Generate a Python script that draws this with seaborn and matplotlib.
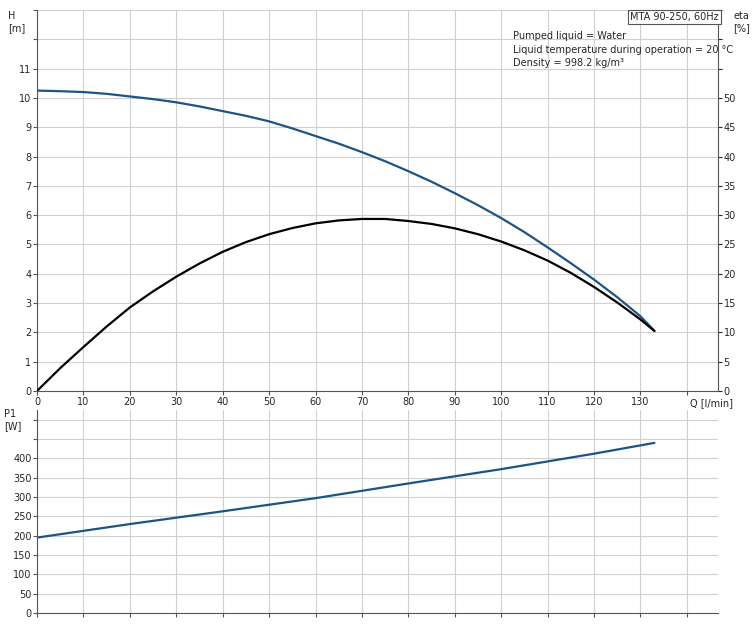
import numpy as np
import pandas as pd
import matplotlib
matplotlib.use('Agg')
import matplotlib.pyplot as plt
from matplotlib.ticker import MultipleLocator
import seaborn as sns

# curve data
q      = [0, 5, 10, 15, 20, 25, 30, 35, 40, 45, 50, 55, 60, 65, 70, 75, 80, 85,
          90, 95, 100, 105, 110, 115, 120, 125, 130, 133]
head   = [10.25, 10.23, 10.2, 10.14, 10.05, 9.96, 9.85, 9.71, 9.55, 9.39, 9.2, 8.96,
          8.7, 8.44, 8.15, 7.84, 7.5, 7.14, 6.75, 6.34, 5.9, 5.42, 4.9, 4.36, 3.8,
          3.2, 2.55, 2.05]
eta    = [0, 3.9, 7.5, 11.0, 14.25, 17.0, 19.5, 21.75, 23.75, 25.4, 26.75, 27.8,
          28.6, 29.1, 29.35, 29.35, 29.0, 28.5, 27.75, 26.75, 25.5, 24.0, 22.25,
          20.15, 17.75, 15.1, 12.2, 10.25]
q_p1   = [0, 20, 40, 60, 80, 100, 120, 133]
p1     = [195, 230, 263, 297, 335, 372, 412, 440]

sns.set_style('white')
plt.rcParams['font.family'] = ['DejaVu Sans']
_fs = 7
blue = '#1d5486'
grid = '#d0d0d0'

fig = plt.figure(figsize=(7.54, 6.27), dpi=100)
W, H = 754., 627.
ax1 = fig.add_axes([37/W, 1-391/H, (718-37)/W, (391-10)/H])
ax2 = fig.add_axes([37/W, 1-613/H, (718-37)/W, (613-410)/H])
xmax = 146.7

df = pd.DataFrame({'Q': q, 'H': head, 'eta': eta})
dp = pd.DataFrame({'Q': q_p1, 'P1': p1})

ax3 = ax1.twinx()
sns.lineplot(data=df, x='Q', y='H', ax=ax1, color=blue, lw=1.6)
sns.lineplot(data=df, x='Q', y='eta', ax=ax3, color='black', lw=1.6)
sns.lineplot(data=dp, x='Q', y='P1', ax=ax2, color=blue, lw=1.6)

ax1.set_xlim(0, xmax); ax1.set_ylim(0, 13)
ax3.set_ylim(0, 65)
ax2.set_xlim(0, xmax); ax2.set_ylim(0, 525)

for a in (ax1, ax2):
    a.grid(True, color=grid, lw=0.8)
    a.set_xlabel(''); a.set_ylabel('')
    for s in ('top', 'right'):
        a.spines[s].set_visible(False)
    a.spines['left'].set_color('#555555'); a.spines['bottom'].set_color('#555555')
    a.tick_params(labelsize=_fs, length=3, direction='out', color='#555555', pad=1,
                  left=True, bottom=True)
ax1.set_yticks(range(0, 14))
ax1.set_yticklabels([str(i) if i <= 11 else '' for i in range(14)])
ax1.set_xticks(range(0, 141, 10))
ax1.set_xticklabels([str(i) if i <= 130 else '' for i in range(0, 141, 10)])
ax3.set_yticks(range(0, 66, 5))
ax3.set_yticklabels([str(i) if i <= 50 else '' for i in range(0, 66, 5)])
ax3.set_ylabel('')
ax3.tick_params(labelsize=_fs, length=3, right=True, pad=1)
for s in ('top', 'left', 'bottom'):
    ax3.spines[s].set_visible(False)
ax3.spines['right'].set_color('#555555')

ax2.set_yticks(range(0, 501, 50))
ax2.set_yticklabels([str(i) if i <= 400 else '' for i in range(0, 501, 50)])
ax2.set_xticks(range(0, 141, 10))
ax2.set_xticklabels([])

fig.text(8/W, 1-22/H, 'H\n[m]', fontsize=_fs, va='center', ha='left')
fig.text(733/W, 1-22/H, 'eta\n[%]', fontsize=_fs, va='center', ha='left')
fig.text(4/W, 1-420/H, 'P1\n[W]', fontsize=_fs, va='center', ha='left')
fig.text(690/W, 1-403/H, 'Q [l/min]', fontsize=_fs, va='center', ha='left')
fig.text(630/W, 1-17/H, 'MTA 90-250, 60Hz', fontsize=_fs, va='center', ha='left',
         bbox=dict(facecolor='white', edgecolor='#555555', boxstyle='square,pad=0.25', lw=0.8))
fig.text(513/W, 1-36/H, 'Pumped liquid = Water', fontsize=_fs, va='center', ha='left')
fig.text(513/W, 1-50/H, 'Liquid temperature during operation = 20 °C', fontsize=_fs, va='center', ha='left')
fig.text(513/W, 1-63/H, 'Density = 998.2 kg/m³', fontsize=_fs, va='center', ha='left')

fig.savefig('out.png', dpi=100)
